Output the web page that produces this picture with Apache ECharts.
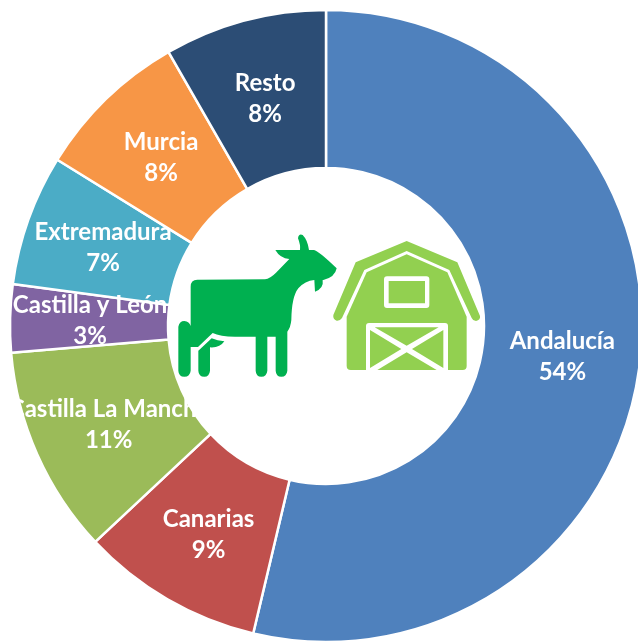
<!DOCTYPE html>
<html><head><meta charset="utf-8">
<style>html,body{margin:0;padding:0;background:#fff}#c{width:638px;height:641px}</style>
<script src="https://cdn.jsdelivr.net/npm/echarts@6/dist/echarts.min.js"></script>
</head><body><div id="c"></div>
<script>
const categories = ['Andalucía','Canarias','Castilla La Mancha','Castilla y León','Extremadura','Murcia','Resto'];
const values = [53.7,9.33,10.62,3.47,6.7,7.88,8.3];
const colors = ['#4F81BD','#C0504D','#9BBB59','#8064A2','#4BACC6','#F79646','#2C4D75'];
const labelNudge = [[-2,2.5],[3,1],[2,1],[4,1],[3,3],[2,4],[1,4.5]];
const goatPath = 'M62 200 Q62 179 82 179 L285 178 Q300 176 318 158 L358 117 Q330 115 316 90 L390 90 Q392 75 384 55 Q386 40 398 45 Q413 60 417 90 L432 90 Q445 92 500 145 Q495 172 460 180 L458 180 Q462 205 435 215 L433 180 Q405 182 385 205 Q365 230 364 300 Q362 322 352 335 L352 452 Q350 470 334 470 Q318 470 317 452 L317 350 L292 350 L292 452 Q290 470 274 470 Q258 470 257 452 L257 350 L195 350 Q150 350 128 339 L84 381 L62 381 L62 452 Q60 470 43 470 Q26 470 25 452 L25 320 Q28 303 43 303 Q58 305 62 318 Z M85 392 L125 355 Q142 362 163 364 Q150 384 120 382 L120 452 Q118 470 103 470 Q86 470 85 452 Z';
const barnRoof = 'M710 63 L862 127 L930 288 Q932 300 918 303 Q908 302 905 294 L838 150 L710 93 L583 150 L516 294 Q510 303 500 302 Q488 298 490 285 L557 127 Z';
const barnBody = 'M710 103 L832 157 L890 290 L890 438 Q890 450 878 450 L542 450 Q530 450 530 438 L530 290 L590 157 Z';
const barnHoles = 'M642 178 Q642 169 651 169 L769 169 Q778 169 778 178 L778 255 Q778 264 769 264 L651 264 Q642 264 642 255 Z M588 318 Q588 309 597 309 L825 309 Q834 309 834 318 L834 451 L588 451 Z';
const barnPanes = 'M656 183 L765 183 L765 250 L656 250 Z M614 322 L806 322 L710 377 Z M600 330 L694 387 L600 444 Z M820 330 L726 387 L820 444 Z M622 450 L710 397 L800 450 Z';
const icon = (d, fill) => ({type:'path', x:170, y:220, scaleX:1/3, scaleY:1/3,
  shape:{pathData:d}, style:{fill}});
const chart = echarts.init(document.getElementById('c'), null, {renderer:'canvas'});
chart.setOption({
  animation:false,
  series:[{
    type:'pie', center:[326,326], radius:[158,316], startAngle:90, clockwise:true,
    percentPrecision:0, avoidLabelOverlap:false,
    itemStyle:{borderColor:'#fff', borderWidth:2.5},
    label:{position:'inside', formatter:'{b}\n{d}%', color:'#fff',
      fontFamily:'Lato', fontWeight:'bold', fontSize:24, lineHeight:31},
    labelLine:{show:false},
    emphasis:{disabled:true},
    data:categories.map((name,i)=>({name, value:values[i], itemStyle:{color:colors[i]},
      label:{offset:labelNudge[i]}}))
  },{
    type:'custom', coordinateSystem:'none', silent:true, z:10, data:[[0]],
    renderItem:()=>({type:'group', children:[
      icon(goatPath,'#00B050'), icon(barnRoof,'#92D050'), icon(barnBody,'#92D050'),
      icon(barnHoles,'#ffffff'), icon(barnPanes,'#92D050')]})
  }]
});
</script></body></html>
